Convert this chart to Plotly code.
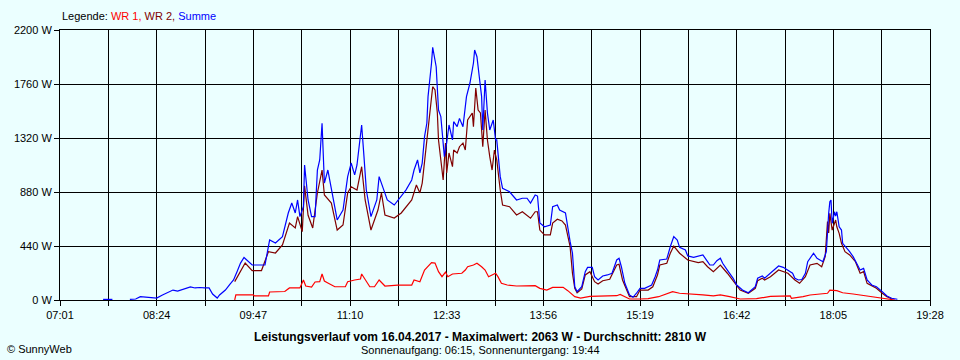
import plotly.graph_objects as go

# ---------------- data ----------------
TICK_LABELS = ["07:01", "08:24", "09:47", "11:10", "12:33",
               "13:56", "15:19", "16:42", "18:05", "19:28"]
Y_TICKS = [0, 440, 880, 1320, 1760, 2200]

SUM_T = ["07:38","07:46","07:50","08:01","08:06","08:10","08:16","08:20","08:24","08:29","08:33","08:38","08:42","08:47","08:53","08:57","09:01","09:05","09:09","09:12","09:16","09:18","09:23","09:27","09:30","09:33","09:36","09:39","09:44","09:46","09:57","10:01","10:06","10:12","10:17","10:20","10:23","10:25","10:27","10:30","10:31","10:34","10:37","10:40","10:42","10:44","10:46","10:48","10:51","10:54","10:59","11:04","11:08","11:11","11:14","11:16","11:20","11:22","11:24","11:28","11:33","11:35","11:38","11:42","11:48","11:54","11:58","12:03","12:05","12:08","12:10","12:12","12:14","12:16","12:17","12:20","12:21","12:24","12:26","12:28","12:29","12:31","12:33","12:35","12:38","12:39","12:42","12:44","12:47","12:50","12:53","12:56","12:57","12:59","13:01","13:03","13:04","13:06","13:08","13:10","13:13","13:15","13:16","13:19","13:21","13:27","13:33","13:38","13:42","13:45","13:49","13:51","13:53","13:57","14:02","14:04","14:08","14:10","14:15","14:17","14:19","14:21","14:22","14:23","14:25","14:29","14:32","14:34","14:38","14:40","14:43","14:47","14:51","14:55","14:59","15:01","15:03","15:06","15:10","15:13","15:16","15:19","15:23","15:26","15:29","15:32","15:34","15:36","15:39","15:42","15:45","15:48","15:51","15:53","15:58","16:00","16:05","16:09","16:13","16:17","16:19","16:22","16:25","16:28","16:30","16:34","16:36","16:39","16:42","16:47","16:52","16:55","16:58","17:00","17:04","17:06","17:11","17:15","17:18","17:22","17:26","17:30","17:32","17:35","17:38","17:41","17:43","17:47","17:48","17:51","17:54","17:56","17:59","18:00","18:01","18:02","18:03","18:04","18:06","18:07","18:08","18:10","18:12","18:13","18:17","18:19","18:22","18:25","18:28","18:31","18:34","18:38","18:42","18:47","18:51","18:55","19:00"]
SUM_W = [5,5,None,5,8,27,24,20,16,41,57,81,73,86,106,98,102,98,98,49,16,41,81,130,163,231,301,346,301,285,285,489,464,516,709,790,709,815,679,760,1100,815,679,679,1059,1141,1440,953,1059,896,652,733,1005,1116,1019,1100,1426,1168,896,679,815,1005,923,815,774,842,896,978,1059,1141,1035,1116,1331,1442,1657,1931,2059,1901,1548,1494,1385,1168,1279,1426,1304,1453,1412,1480,1412,1657,1768,1931,2037,1982,1819,1657,1385,1793,1524,1385,1467,1304,1304,1005,910,882,815,829,829,790,856,847,627,597,611,760,774,733,709,570,475,383,204,108,68,108,231,266,266,190,163,196,204,218,326,340,271,136,41,22,55,95,95,108,122,190,244,326,332,334,434,516,489,429,407,359,348,359,367,312,285,285,320,340,299,244,218,177,122,81,59,81,108,177,196,177,218,258,277,266,244,218,177,163,167,218,312,367,381,340,326,312,394,597,706,801,815,625,719,684,719,597,570,462,421,394,353,299,244,258,163,122,108,68,33,14,6]

WR2_T = ["09:31","09:40","09:46","09:54","10:00","10:06","10:12","10:18","10:23","10:25","10:29","10:31","10:34","10:38","10:42","10:46","10:48","10:54","10:59","11:04","11:08","11:11","11:16","11:20","11:23","11:28","11:34","11:37","11:40","11:48","11:54","11:58","12:03","12:07","12:10","12:12","12:15","12:17","12:19","12:21","12:23","12:25","12:26","12:28","12:30","12:32","12:33","12:35","12:38","12:39","12:42","12:44","12:47","12:49","12:51","12:55","12:56","12:58","13:00","13:02","13:04","13:06","13:08","13:10","13:12","13:14","13:16","13:19","13:21","13:27","13:33","13:38","13:45","13:49","13:51","13:53","13:57","14:02","14:04","14:08","14:12","14:15","14:17","14:19","14:21","14:23","14:25","14:29","14:32","14:36","14:40","14:43","14:47","14:53","14:59","15:01","15:04","15:10","15:16","15:19","15:26","15:30","15:34","15:36","15:42","15:45","15:48","15:53","16:00","16:09","16:13","16:17","16:22","16:28","16:34","16:39","16:45","16:52","16:58","17:00","17:04","17:06","17:11","17:18","17:26","17:32","17:36","17:41","17:45","17:51","17:55","17:58","18:00","18:01","18:02","18:04","18:07","18:08","18:10","18:12","18:15","18:19","18:24","18:28","18:31","18:34","18:38","18:42","18:47","18:51","18:55"]
WR2_W = [150,301,240,240,394,383,448,627,587,679,557,930,690,587,872,1059,856,790,570,611,872,923,896,1086,815,570,733,872,693,668,709,760,815,937,872,953,1222,1385,1616,1738,1711,1524,1304,1116,978,1279,1035,1198,1086,1222,1198,1249,1279,1222,1467,1524,1412,1727,1548,1524,1249,1548,1304,1168,1059,1222,1141,896,774,760,693,719,666,719,719,570,530,530,627,658,644,611,516,434,218,95,59,90,204,231,149,130,157,169,285,291,163,27,27,81,81,108,204,285,299,381,440,381,326,304,312,271,231,285,218,157,81,55,95,157,177,163,190,244,218,163,136,190,285,299,271,353,640,546,706,570,652,597,543,462,394,367,312,218,231,136,114,95,55,27,11]

WR1_T = ["09:31","09:32","09:47","09:48","10:00","10:01","10:14","10:18","10:27","10:30","10:32","10:37","10:40","10:44","10:46","10:48","10:51","10:57","11:06","11:08","11:14","11:19","11:20","11:23","11:27","11:31","11:35","11:40","11:51","12:03","12:05","12:10","12:14","12:20","12:23","12:26","12:29","12:32","12:34","12:38","12:46","12:49","12:51","12:56","12:59","13:03","13:06","13:09","13:12","13:15","13:17","13:20","13:25","13:33","13:49","13:53","13:59","14:04","14:13","14:17","14:23","14:28","14:36","14:49","14:59","15:02","15:06","15:10","15:19","15:26","15:35","15:42","15:47","15:53","16:02","16:13","16:22","16:28","16:36","16:45","16:59","17:11","17:28","17:29","17:39","17:45","18:00","18:02","18:08","18:13","18:22","18:28","18:34","18:45","18:54","18:58"]
WR1_W = [0,41,41,33,33,65,69,98,98,163,114,106,147,149,212,155,139,108,108,149,163,171,212,163,108,108,163,114,122,122,163,149,244,304,301,231,190,228,190,212,218,244,271,285,299,271,244,190,204,218,190,136,122,114,117,95,81,103,103,76,27,16,29,33,35,46,27,8,8,12,27,49,68,55,46,41,33,41,27,8,11,29,33,14,27,41,55,81,76,59,49,41,27,14,6,0]

TITLE = "Leistungsverlauf vom 16.04.2017 - Maximalwert: 2063 W - Durchschnitt: 2810 W"
SUBTITLE = "Sonnenaufgang: 06:15, Sonnenuntergang: 19:44"


def to_min(s):
    h, m = s.split(":")
    return int(h) * 60 + int(m)


BG = "#EBFFFF"
FONT = "Liberation Sans, Arial, sans-serif"

x_start = to_min(TICK_LABELS[0])
x_end = to_min(TICK_LABELS[-1])
step = (x_end - x_start) / (len(TICK_LABELS) - 1)
tickvals, ticktext = [], []
for i in range(2 * (len(TICK_LABELS) - 1) + 1):
    tickvals.append(x_start + i * step / 2)
    ticktext.append(TICK_LABELS[i // 2] if i % 2 == 0 else "")

fig = go.Figure()
fig.add_trace(go.Scatter(x=[to_min(t) for t in WR1_T], y=WR1_W, mode="lines",
                         line=dict(color="#FF0000", width=1.2), name="WR 1"))
fig.add_trace(go.Scatter(x=[to_min(t) for t in WR2_T], y=WR2_W, mode="lines",
                         line=dict(color="#800000", width=1.2), name="WR 2"))
fig.add_trace(go.Scatter(x=[to_min(t) for t in SUM_T], y=SUM_W, mode="lines",
                         line=dict(color="#0000FF", width=1.2), name="Summe",
                         connectgaps=False))

axis_common = dict(showgrid=True, gridcolor="black", gridwidth=1,
                   showline=True, linecolor="black", linewidth=1, mirror=True,
                   ticks="outside", ticklen=5, tickcolor="black", tickwidth=1,
                   zeroline=False, tickfont=dict(family=FONT, size=11, color="black"))

fig.update_layout(
    width=960, height=360,
    margin=dict(l=60, r=30, t=30, b=60),
    paper_bgcolor=BG, plot_bgcolor=BG,
    showlegend=False,
    font=dict(family=FONT, size=11, color="black"),
    xaxis=dict(range=[x_start, x_end], tickmode="array", tickvals=tickvals,
               ticktext=ticktext, **axis_common),
    yaxis=dict(range=[0, 2200], tickmode="array", tickvals=Y_TICKS,
               ticktext=[f"{v} W" for v in Y_TICKS], **axis_common),
)

legend_text = ("Legende: <span style='color:#FF0000'>WR 1,</span> "
               "<span style='color:#800000'>WR 2,</span> "
               "<span style='color:#0000FF'>Summe</span>")
fig.add_annotation(xref="paper", yref="paper", x=0, y=(300 - 16) / 270,
                   xanchor="left", yanchor="middle", showarrow=False,
                   text=legend_text, font=dict(family=FONT, size=11, color="black"))
fig.add_annotation(xref="paper", yref="paper", x=(480 - 60) / 870, y=(300 - 337) / 270,
                   xanchor="center", yanchor="middle", showarrow=False,
                   text=f"<b>{TITLE}</b>", font=dict(family=FONT, size=12, color="black"))
fig.add_annotation(xref="paper", yref="paper", x=(480 - 60) / 870, y=(300 - 350) / 270,
                   xanchor="center", yanchor="middle", showarrow=False,
                   text=SUBTITLE, font=dict(family=FONT, size=11, color="black"))
fig.add_annotation(xref="paper", yref="paper", x=(5 - 60) / 870, y=(300 - 349) / 270,
                   xanchor="left", yanchor="middle", showarrow=False,
                   text="© SunnyWeb", font=dict(family=FONT, size=11, color="black"))

fig.write_html("out.html",
               config={"displayModeBar": False},
               post_script="document.body.style.margin='0';"
                           "document.body.style.overflow='hidden';"
                           f"document.body.style.background='{BG}';")
